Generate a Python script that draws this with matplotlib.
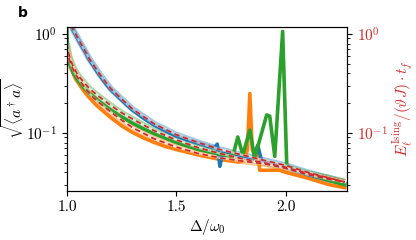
import matplotlib
matplotlib.use("Agg")
import matplotlib.pyplot as plt

plt.rcParams.update({
    "font.family": "serif",
    "font.serif": ["cmr10"],
    "mathtext.fontset": "cm",
    "axes.formatter.use_mathtext": True,
    "axes.unicode_minus": False,
    "font.size": 11,
})

# ---- data ----
blue_d = [1.02, 1.03, 1.04, 1.05, 1.06, 1.07, 1.08, 1.09, 1.10, 1.12, 1.14, 1.16, 1.18, 1.20,
          1.25, 1.30, 1.35, 1.40, 1.45, 1.50, 1.55, 1.60, 1.65, 1.675, 1.687, 1.699, 1.712,
          1.75, 1.80, 1.85, 1.872, 1.89, 1.95, 2.00, 2.10, 2.20, 2.27]
blue_v = [1.22, 1.07, 0.98, 0.89, 0.81, 0.74, 0.68, 0.62, 0.56, 0.48, 0.41, 0.355, 0.31, 0.275,
          0.215, 0.17, 0.141, 0.12, 0.105, 0.093, 0.085, 0.079, 0.073, 0.071, 0.077, 0.046, 0.063,
          0.061, 0.057, 0.054, 0.075, 0.052, 0.048, 0.045, 0.038, 0.033, 0.031]

orange_d = [1.0, 1.005, 1.01, 1.02, 1.03, 1.04, 1.06, 1.08, 1.10, 1.13, 1.16, 1.20, 1.25, 1.30,
            1.35, 1.40, 1.45, 1.50, 1.60, 1.70, 1.78, 1.81, 1.825, 1.836, 1.847, 1.86, 1.872,
            1.881, 1.93, 1.973, 2.0, 2.1, 2.2, 2.27]
orange_v = [0.63, 0.56, 0.51, 0.44, 0.39, 0.35, 0.30, 0.26, 0.23, 0.195, 0.17, 0.143, 0.118, 0.101,
            0.089, 0.080, 0.073, 0.068, 0.060, 0.054, 0.051, 0.052, 0.068, 0.25, 0.068, 0.058,
            0.070, 0.042, 0.042, 0.042, 0.040, 0.035, 0.030, 0.028]

green_d = [1.0, 1.003, 1.01, 1.02, 1.03, 1.05, 1.075, 1.10, 1.15, 1.20, 1.25, 1.30, 1.35, 1.40,
           1.50, 1.60, 1.70, 1.758, 1.781, 1.804, 1.836, 1.858, 1.913, 1.927, 1.95, 1.986,
           2.005, 2.1, 2.2, 2.27]
green_v = [1.10, 0.60, 0.52, 0.45, 0.40, 0.34, 0.29, 0.255, 0.205, 0.17, 0.145, 0.125, 0.11, 0.098,
           0.080, 0.068, 0.061, 0.058, 0.091, 0.060, 0.107, 0.056, 0.152, 0.148, 0.058, 1.06,
           0.046, 0.039, 0.033, 0.030]

ising_d = [1.0, 1.01, 1.02, 1.03, 1.04, 1.05, 1.06, 1.08, 1.10, 1.12, 1.15, 1.20, 1.25, 1.30,
           1.40, 1.50, 1.60, 1.70, 1.80, 1.90, 2.00, 2.10, 2.20, 2.27]
ising_blue = [None, None, 1.22, 1.08, 0.99, 0.90, 0.82, 0.69, 0.57, 0.49, 0.39, 0.28, 0.22, 0.174,
              0.123, 0.096, 0.080, 0.068, 0.060, 0.053, 0.047, 0.040, 0.035, 0.032]
ising_green = [0.80, 0.60, 0.52, 0.46, 0.42, 0.385, 0.36, 0.32, 0.285, 0.26, 0.23, 0.19, 0.16,
               0.138, 0.105, 0.085, 0.071, 0.062, 0.055, 0.050, 0.045, 0.039, 0.035, 0.032]
ising_orange = [0.70, 0.56, 0.48, 0.43, 0.39, 0.36, 0.335, 0.29, 0.255, 0.228, 0.20, 0.163, 0.135,
                0.113, 0.087, 0.072, 0.062, 0.056, 0.052, 0.049, 0.044, 0.038, 0.034, 0.032]

xticks = [1.0, 1.5, 2.0]
colors = {"blue": "#1f77b4", "orange": "#ff7f0e", "green": "#2ca02c"}
red = "#d62728"

fig = plt.figure(figsize=(4.16, 2.4), dpi=100)
ax = fig.add_axes([0.161, 0.204, 0.673, 0.6835])
ax2 = ax.twinx()

ylim = (0.0259, 1.175)


def clean(d, v):
    pts = [(a, b) for a, b in zip(d, v) if b is not None]
    return [p[0] for p in pts], [p[1] for p in pts]


ising = (("blue", ising_blue), ("green", ising_green), ("orange", ising_orange))

# light bands (Ising energy, drawn on the shared log scale)
for key, iv in ising:
    d, v = clean(ising_d, iv)
    ax.plot(d, v, color=colors[key], lw=4.5, alpha=0.4, solid_capstyle="butt", zorder=1)

# solid data lines
ax.plot(orange_d, orange_v, color=colors["orange"], lw=2.6, zorder=2)
ax.plot(blue_d, blue_v, color=colors["blue"], lw=2.6, zorder=2)
ax.plot(green_d, green_v, color=colors["green"], lw=2.6, zorder=2)

# red dashed overlays
for key, iv in ising:
    d, v = clean(ising_d, iv)
    ax.plot(d, v, color="white", lw=1.8, alpha=0.55, zorder=3)
    ax.plot(d, v, color=red, lw=1.3, ls=(0, (3, 2)), zorder=4)

for a in (ax, ax2):
    a.set_yscale("log")
    a.set_ylim(*ylim)
ax.set_xlim(1.0, 2.28)
ax.set_xticks(xticks)
ax.set_xticklabels([f"{t:.1f}" for t in xticks])

ax.set_xlabel(r"$\Delta/\omega_0$", fontsize=11, labelpad=2)
ax.set_ylabel(r"$\sqrt{\langle a^\dagger a\rangle}$", fontsize=11, labelpad=0)
ax2.set_ylabel(r"$E_\ell^{\rm Ising}/(\vartheta J)\cdot t_f$", fontsize=11, color=red, labelpad=2)
ax2.tick_params(axis="y", which="both", labelcolor=red)
for a in (ax, ax2):
    a.tick_params(labelsize=11)

fig.text(0.055, 0.945, "b", fontsize=10, fontweight="bold", family="DejaVu Sans",
         ha="center", va="center")

fig.savefig("out.png", dpi=100)
